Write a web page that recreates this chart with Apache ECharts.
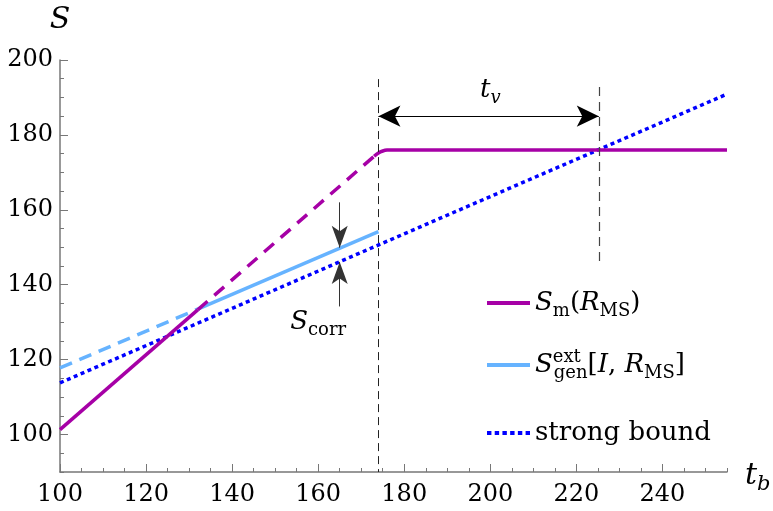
<!DOCTYPE html>
<html>
<head>
<meta charset="utf-8">
<script src="https://cdn.jsdelivr.net/npm/echarts@6/dist/echarts.min.js"></script>
<style>
  html, body { margin: 0; padding: 0; background: #fff; }
  #main { width: 773px; height: 511px; }
</style>
</head>
<body>
<div id="main"></div>
<script>
// values
const xMajorTicks = [100, 120, 140, 160, 180, 200, 220, 240];
const yMajorTicks = [100, 120, 140, 160, 180, 200];

// S_m(R_MS): solid below the crossing, dashed up to the plateau, then solid
const smLowT = [100, 132];
const smLowS = [101.3, 133.3];
const smDashT = [132, 173];
const smDashS = [133.3, 174.3];
const smHighT = [173, 174, 175, 176, 177.5, 255];
const smHighS = [174.3, 175.2, 175.7, 175.95, 176, 176];

// S_gen^ext[I, R_MS]: dashed then solid
const genDashT = [100, 132];
const genDashS = [117.8, 133.5];
const genSolidT = [132, 174];
const genSolidS = [133.5, 154.2];

// strong bound
const strongT = [100, 255];
const strongS = [113.8, 190.9];

// annotations
const boundaryT = [174, 225.2];
const boundaryTop = [194.9, 192.8];
const boundaryBottom = [90, 145.3];
const tvArrowS = 185;
const corrT = 165;
const corrDown = [162, 149.9];
const corrUp = [134.2, 146.1];

const zip = (ts, ss) => ts.map((t, i) => [t, ss[i]]);

const FONT = 'DejaVu Serif';
const rich = {
  i: { fontFamily: FONT, fontStyle: 'italic', fontSize: 26, lineHeight: 34, color: '#000' },
  r: { fontFamily: FONT, fontSize: 26, lineHeight: 34, color: '#000' },
  rpad: { fontFamily: FONT, fontSize: 26, lineHeight: 34, padding: [10, 0, 10, 0], color: '#000' },
  sub: { fontFamily: FONT, fontSize: 18, lineHeight: 19, verticalAlign: 'bottom', color: '#000' },
  subi: { fontFamily: FONT, fontStyle: 'italic', fontSize: 18, lineHeight: 19, verticalAlign: 'bottom', color: '#000' },
  sup: { fontFamily: FONT, fontSize: 18, lineHeight: 19, verticalAlign: 'top', width: 1, color: '#000' },
  big: { fontFamily: FONT, fontStyle: 'italic', fontSize: 30, lineHeight: 38, color: '#000' },
  bigsub: { fontFamily: FONT, fontStyle: 'italic', fontSize: 21, lineHeight: 21, verticalAlign: 'bottom', color: '#000' }
};

const legendText = {
  sm: '{i|S}{sub|m}{r|(}{i|R}{sub|MS}{r|)}',
  gen: '{i|S}{sup|ext}{sub|gen}{r|[}{i|I}{r|, }{i|R}{sub|MS}{r|]}',
  strong: '{rpad|strong bound}'
};

const MAGENTA = '#a600a6';
const LIGHT = '#66b3ff';
const BLUE = '#0000ff';
const AXIS = '#777';

// legend sample for the dotted line: six square dots
const DOTS_ICON = 'path://M0 0h4v4H0z M7 0h4v4H7z M14 0h4v4h-4z M21 0h4v4h-4z M28 0h4v4h-4z M35 0h4v4h-4z';

const chart = echarts.init(document.getElementById('main'));

const arrowLine = { color: '#333', width: 1, type: 'solid' };

chart.setOption({
  animation: false,
  textStyle: { fontFamily: FONT },
  grid: { left: 60, right: 46, top: 60, bottom: 39, outerBoundsMode: 'none' },
  xAxis: [{
    type: 'value', min: 100, max: 255,
    name: '{big|t}{bigsub|b}', nameLocation: 'end', nameGap: 18,
    nameTextStyle: { rich: rich, padding: [8, 0, 0, 0] },
    axisLine: { show: true, lineStyle: { color: AXIS, width: 1.5 } },
    axisTick: { show: true, inside: true, length: 8, customValues: xMajorTicks, lineStyle: { color: AXIS } },
    axisLabel: { customValues: xMajorTicks, fontFamily: FONT, fontSize: 24, color: '#000', margin: 11 },
    splitLine: { show: false }
  }, {
    type: 'value', min: 100, max: 255, interval: 5, position: 'bottom',
    axisLine: { show: false },
    axisTick: { show: true, inside: true, length: 4, lineStyle: { color: AXIS } },
    axisLabel: { show: false },
    splitLine: { show: false }
  }],
  yAxis: [{
    type: 'value', min: 90, max: 200,
    name: '{big|S}', nameLocation: 'end', nameGap: 21,
    nameTextStyle: { rich: rich },
    axisLine: { show: true, lineStyle: { color: AXIS, width: 1.5 } },
    axisTick: { show: true, inside: true, length: 8, customValues: yMajorTicks, lineStyle: { color: AXIS } },
    axisLabel: { customValues: yMajorTicks, fontFamily: FONT, fontSize: 24, color: '#000', margin: 7 },
    splitLine: { show: false }
  }, {
    type: 'value', min: 90, max: 200, interval: 5, position: 'left',
    axisLine: { show: false },
    axisTick: { show: true, inside: true, length: 4, lineStyle: { color: AXIS } },
    axisLabel: { show: false },
    splitLine: { show: false }
  }],
  legend: {
    orient: 'vertical',
    left: 482, top: 285,
    itemWidth: 43, itemHeight: 4, itemGap: 28,
    symbolKeepAspect: false,
    data: [
      { name: 'sm', icon: 'rect' },
      { name: 'gen', icon: 'rect' },
      { name: 'strong', icon: DOTS_ICON }
    ],
    formatter: name => legendText[name],
    textStyle: { rich: rich },
    selectedMode: false
  },
  series: [
    {
      name: 'strong', type: 'line', symbol: 'none', z: 3,
      data: zip(strongT, strongS),
      lineStyle: { color: BLUE, width: 3.5, type: [4, 3.5], cap: 'butt' },
      itemStyle: { color: BLUE }
    },
    {
      name: 'genDash', type: 'line', symbol: 'none',
      data: zip(genDashT, genDashS),
      lineStyle: { color: LIGHT, width: 3.5, type: [13, 8] }
    },
    {
      name: 'gen', type: 'line', symbol: 'none',
      data: zip(genSolidT, genSolidS),
      lineStyle: { color: LIGHT, width: 3.5 },
      itemStyle: { color: LIGHT }
    },
    {
      name: 'smDash', type: 'line', symbol: 'none',
      data: zip(smDashT, smDashS),
      lineStyle: { color: MAGENTA, width: 3.5, type: [13, 9] }
    },
    {
      name: 'sm', type: 'line', symbol: 'none',
      data: zip(smLowT, smLowS),
      lineStyle: { color: MAGENTA, width: 3.5 },
      itemStyle: { color: MAGENTA }
    },
    {
      name: 'sm', type: 'line', symbol: 'none', smooth: 0.4,
      data: zip(smHighT, smHighS),
      lineStyle: { color: MAGENTA, width: 3.5 },
      itemStyle: { color: MAGENTA }
    },
    {
      // annotations: guide lines, arrows and labels
      name: 'notes', type: 'line', symbol: 'none', data: [], silent: true,
      markLine: {
        silent: true, animation: false,
        label: { show: false },
        emphasis: { disabled: true },
        data: [
          [{ coord: [boundaryT[0], boundaryTop[0]], symbol: 'none', lineStyle: { color: '#222', width: 1, type: [8, 5] } },
           { coord: [boundaryT[0], boundaryBottom[0]], symbol: 'none' }],
          [{ coord: [boundaryT[1], boundaryTop[1]], symbol: 'none', lineStyle: { color: '#444', width: 1.2, type: [9, 6] } },
           { coord: [boundaryT[1], boundaryBottom[1]], symbol: 'none' }],
          [{ coord: [boundaryT[0], tvArrowS], symbol: 'arrow', symbolSize: [16, 22], lineStyle: { color: '#000', width: 1.2, type: 'solid' } },
           { coord: [boundaryT[1], tvArrowS], symbol: 'arrow', symbolSize: [16, 22] }],
          [{ coord: [corrT, corrDown[0]], symbol: 'none', lineStyle: arrowLine },
           { coord: [corrT, corrDown[1]], symbol: 'arrow', symbolSize: [12, 22] }],
          [{ coord: [corrT, corrUp[0]], symbol: 'none', lineStyle: arrowLine },
           { coord: [corrT, corrUp[1]], symbol: 'arrow', symbolSize: [12, 22] }]
        ],
        itemStyle: { color: '#000' }
      },
      markPoint: {
        silent: true, animation: false,
        symbol: 'circle', symbolSize: 0,
        label: { show: true, position: 'inside', rich: rich },
        data: [
          { coord: [200, 192], label: { formatter: '{i|t}{subi|v}' } },
          { coord: [160, 130], label: { formatter: '{i|S}{sub|corr}' } }
        ]
      }
    }
  ]
});
</script>
</body>
</html>
